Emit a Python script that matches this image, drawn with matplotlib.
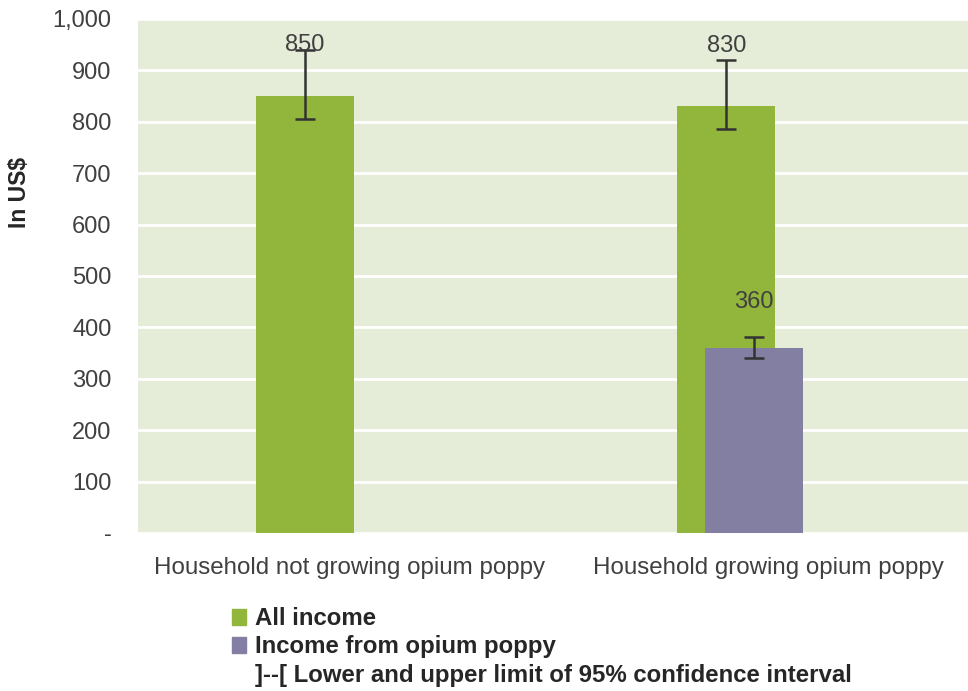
import matplotlib.pyplot as plt
from matplotlib.patches import Patch

plt.rcParams['font.family'] = ['Liberation Sans', 'DejaVu Sans']

categories = ["Household not growing opium poppy", "Household growing opium poppy"]
all_income = [850, 830]
all_income_low = [806, 786]
all_income_high = [940, 920]
poppy_income = [360]          # only the growing households
poppy_low = [340]
poppy_high = [381]
label_y_all = [949, 948]
label_y_poppy = [450]
yticks = [0, 100, 200, 300, 400, 500, 600, 700, 800, 900, 1000]
yticklabels = ["-", "100", "200", "300", "400", "500", "600", "700", "800", "900", "1,000"]

green = "#92B53C"
purple = "#837FA3"
bg = "#E5ECD7"
txt = "#404040"

fig = plt.figure(figsize=(9.68, 6.91), dpi=100)
ax = fig.add_axes([138/968, 1 - 533/691, 1 - 138/968, (533 - 19)/691])
ax.set_facecolor(bg)

w = 0.234
x_all = [0 - 0.105, 1 - 0.10]
x_poppy = [1 - 0.033]

ax.bar(x_all, all_income, width=w, color=green, zorder=2)
ax.bar(x_poppy, poppy_income, width=w, color=purple, zorder=3)

err_all = [[v - lo for v, lo in zip(all_income, all_income_low)],
           [hi - v for v, hi in zip(all_income, all_income_high)]]
err_poppy = [[v - lo for v, lo in zip(poppy_income, poppy_low)],
             [hi - v for v, hi in zip(poppy_income, poppy_high)]]
ax.errorbar(x_all, all_income, yerr=err_all, fmt="none", ecolor="#333333",
            elinewidth=1.8, capsize=7.5, capthick=1.8, zorder=4)
ax.errorbar(x_poppy, poppy_income, yerr=err_poppy, fmt="none", ecolor="#333333",
            elinewidth=1.8, capsize=7.5, capthick=1.8, zorder=4)

for x, v, y in zip(x_all, all_income, label_y_all):
    ax.text(x, y, str(v), ha="center", va="center", fontsize=17, color=txt, zorder=5)
for x, v, y in zip(x_poppy, poppy_income, label_y_poppy):
    ax.text(x, y, str(v), ha="center", va="center", fontsize=17, color=txt, zorder=5)

ax.set_ylim(0, 1000)
ax.set_xlim(-0.504, 1.477)
ax.set_yticks(yticks)
ax.set_yticklabels(yticklabels, fontsize=17, color=txt)
ax.set_xticks([0, 1])
ax.set_xticklabels(categories, fontsize=17.4, color=txt)
ax.tick_params(axis="y", length=0, pad=19)
ax.tick_params(axis="x", length=0, pad=17)
ax.grid(axis="y", color="white", linewidth=2, zorder=1)
ax.set_axisbelow(True)
for s in ax.spines.values():
    s.set_visible(False)

fig.text(20/968, 1 - 192/691, "In US$", rotation=90, ha="center", va="center",
         fontsize=16.5, fontweight="bold", color="#262626")

handles = [Patch(color=green), Patch(color=purple), Patch(color="none")]
labels = ["All income", "Income from opium poppy",
          "]--[ Lower and upper limit of 95% confidence interval"]
fig.legend(handles, labels, loc="upper left", bbox_to_anchor=(232/968, 1 - 607/691),
           frameon=False, prop={"size": 17.3, "weight": "bold"},
           handlelength=0.6, handleheight=0.65, handletextpad=0.35,
           labelspacing=0.22, borderpad=0, borderaxespad=0, labelcolor="#262626")

fig.savefig("out.png", dpi=100)
